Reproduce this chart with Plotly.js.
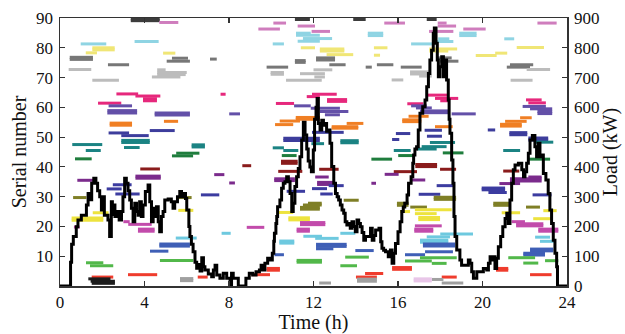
<!DOCTYPE html>
<html>
<head>
<meta charset="utf-8">
<script src="https://cdn.plot.ly/plotly-3.0.1.min.js"></script>
<style>
html,body{margin:0;padding:0;background:#fff;}
#chart{width:625px;height:334px;}
</style>
</head>
<body>
<div id="chart"></div>
<script>
// Each bar: [serial number, start time (h), end time (h)]
const topDarkBars = [[89.7,3.35,4.72],[89.1,3.35,4.72],[89.5,11.12,11.83],[89.5,13.88,14.47],[89.5,17.36,17.83]];
const orchidBars = [[88.5,4.7,5.6],[86.3,9.39,10.41],[88.3,10.1,10.7],[87.3,11.25,12.07],[85.5,11.91,12.78],[88.3,15.35,16.33],[88.3,17.88,18.3],[87.3,17.88,18.75],[85.5,17.47,18.62],[86.3,19.09,20.15],[88.3,22.6,23.51]];
const lightBlueBars = [[81.3,0.98,2.19],[82.1,3.53,4.67],[81.3,10.07,10.6],[84.9,11.17,11.87],[84.2,11.17,12.3],[83.1,11.5,12.88],[82.2,11.25,12.3],[84.9,14.57,15.3],[84.1,14.57,15.3],[84.9,18.9,19.72],[84.1,18.9,19.72],[83.0,21.03,21.5],[81.3,16.62,17.64],[83.0,17.9,18.43],[82.1,17.64,18.62]];
const paleYellowBars = [[80.0,1.53,2.59],[79.3,1.53,2.59],[78.3,1.22,1.75],[78.2,4.88,5.46],[80.0,11.4,12.07],[79.6,12.3,13.46],[78.9,12.3,13.46],[77.7,12.62,13.88],[80.0,14.86,15.5],[77.5,14.86,15.15],[79.6,17.48,18.8],[78.9,17.48,18.38],[77.4,19.68,20.67],[78.2,20.6,21.17],[80.1,21.62,22.91]];
const grayBars = [[76.8,0.46,1.56],[76.1,0.46,1.56],[74.3,2.27,3.27],[76.5,5.3,6.06],[75.5,5.05,6.15],[76.2,7.1,7.42],[73.5,9.78,10.8],[75.7,11.12,11.63],[75.1,11.12,11.63],[76.6,12.12,13.02],[75.9,12.12,13.02],[74.3,12.75,13.52],[73.5,14.47,14.76],[74.3,15.0,15.78],[73.5,16.13,17.12],[76.6,17.83,18.54],[75.5,17.99,18.86],[74.3,21.3,22.4],[73.5,21.15,22.25]];
const lightGrayBars = [[72.7,0.41,1.48],[69.1,1.53,2.79],[72.6,4.6,5.0],[71.7,4.6,6.0],[71.0,4.6,5.95],[70.2,4.35,5.7],[71.7,9.97,10.6],[71.1,9.97,10.6],[69.1,10.7,12.39],[72.6,12.0,12.89],[71.3,11.36,12.54],[70.2,12.04,12.54],[69.2,15.7,16.25],[71.9,16.57,17.5],[71.2,16.57,17.5],[70.5,17.0,17.6],[72.7,22.09,23.2],[69.1,21.33,22.37]];
const crimsonBars = [[64.5,2.67,3.7],[63.8,3.57,4.75],[62.9,3.93,4.59],[62.2,3.93,4.59],[61.4,1.8,2.9],[64.4,7.6,7.84],[61.3,10.22,11.08],[63.6,11.68,12.3],[64.4,11.93,13.1],[62.6,12.64,13.59],[62.0,12.64,13.59],[61.2,16.44,17.2],[64.1,17.36,18.38],[63.0,17.75,18.85],[62.2,18.0,18.4],[62.5,22.06,22.8],[61.5,22.17,23.0]];
const slatePurpleBars = [[60.5,2.3,3.41],[58.9,2.24,3.65],[58.1,2.24,3.65],[58.1,4.48,6.15],[57.4,4.48,6.15],[57.8,8.01,8.52],[60.5,11.08,11.87],[59.7,11.87,13.25],[58.6,12.3,13.65],[57.5,12.54,13.25],[60.5,16.62,17.36],[59.8,16.85,17.6],[58.8,17.04,18.43],[58.2,17.04,18.43],[57.8,18.54,19.68],[60.3,21.9,23.0],[59.5,22.25,23.3],[58.6,22.6,23.3],[57.9,22.6,23.3]];
const orangeBars = [[54.7,2.35,3.41],[54.0,2.35,3.41],[55.3,4.92,5.59],[56.6,11.16,12.3],[56.0,11.16,12.3],[55.4,10.4,11.36],[54.2,10.18,11.04],[54.6,13.57,14.36],[53.5,12.86,14.12],[53.0,12.86,14.12],[57.0,16.5,17.45],[55.8,16.2,17.1],[55.2,16.2,17.1],[53.5,17.75,18.59],[56.5,21.78,22.33],[55.3,21.07,22.09],[54.3,20.83,21.86],[53.7,20.83,21.86]];
const indigoBars = [[51.4,2.3,3.27],[50.5,2.9,4.2],[52.2,4.25,5.43],[49.6,10.57,12.3],[48.9,10.57,12.3],[51.6,11.93,13.43],[51.2,15.9,16.58],[49.2,15.72,16.06],[52.3,17.26,18.08],[50.3,17.37,18.08],[52.4,20.25,20.6],[51.5,21.27,22.12],[50.8,21.27,22.12],[49.7,22.17,23.11],[49.0,22.17,23.11]];
const tealBars = [[47.5,0.58,2.0],[45.5,1.22,1.93],[48.9,2.9,4.25],[48.2,2.9,4.25],[46.5,3.03,3.77],[47.4,6.23,6.86],[46.7,6.23,6.86],[46.4,10.07,10.6],[45.5,10.57,11.28],[47.8,11.9,12.5],[48.8,13.27,14.14],[48.1,13.27,14.14],[45.5,15.8,16.6],[48.2,17.51,18.7],[46.8,17.12,18.3],[46.0,16.88,17.83],[45.5,20.98,21.78],[48.3,22.49,23.35]];
const darkGreenBars = [[42.7,0.71,1.5],[44.6,5.5,6.6],[43.7,5.3,6.3],[43.8,10.5,11.2],[42.6,14.74,15.72],[43.8,16.01,16.8],[44.7,18.12,19.1],[42.6,22.17,23.2]];
const darkRedBars = [[39.3,3.8,4.73],[40.4,8.63,9.05],[41.9,10.46,11.25],[41.2,10.46,11.25],[38.5,10.33,11.47],[39.2,12.27,13.19],[38.4,15.8,16.9],[40.8,16.82,17.85],[40.1,16.82,17.85],[39.2,17.99,18.75],[38.6,20.98,21.74]];
const purpleBars = [[36.9,3.57,4.77],[36.2,3.57,4.77],[35.5,0.82,1.56],[37.4,7.3,7.78],[34.6,8.01,8.28],[36.0,10.14,11.12],[35.4,10.14,11.12],[36.6,12.08,12.72],[34.8,12.17,12.96],[34.1,12.17,12.96],[37.5,15.37,16.03],[34.5,14.74,14.96],[35.6,16.66,17.29],[34.4,20.8,21.78],[36.0,21.3,22.8],[35.3,21.3,22.8],[36.6,22.17,22.8]];
const navyBars = [[34.0,2.5,3.39],[32.6,2.21,2.92],[30.9,2.62,3.77],[30.6,6.67,7.54],[31.8,10.73,11.6],[32.7,11.93,12.64],[33.7,12.72,13.43],[30.9,12.32,12.91],[30.8,16.98,18.0],[33.7,17.83,18.7],[32.9,19.96,21.07],[32.3,19.96,21.07],[31.4,20.28,21.15],[30.6,22.37,23.27]];
const oliveBars = [[29.7,0.62,1.25],[29.7,5.52,6.23],[27.8,11.74,12.39],[27.2,11.5,12.39],[26.4,11.36,12.3],[25.8,11.36,12.3],[28.8,13.43,14.14],[27.8,15.95,16.5],[27.1,15.95,16.5],[26.5,16.58,17.37],[29.8,17.69,18.75],[29.1,17.69,18.75],[27.8,20.51,21.3],[27.1,20.51,21.3],[26.5,22.06,22.72]];
const yellowBars = [[22.8,0.55,2.05],[22.1,0.55,2.05],[24.6,1.55,2.3],[25.4,5.6,6.31],[22.9,10.81,11.83],[22.2,10.81,11.83],[24.7,10.33,11.04],[25.6,16.8,18.54],[24.3,16.8,17.83],[23.0,16.96,17.99],[22.3,16.96,17.99],[25.0,16.1,16.57],[24.6,20.91,21.78],[25.3,22.88,23.51],[22.6,22.4,23.27]];
const magentaBars = [[21.6,3.0,3.3],[20.7,3.23,4.34],[19.1,3.69,4.48],[18.4,3.69,4.48],[19.8,0.66,0.93],[19.7,8.84,9.67],[19.1,11.2,11.83],[18.4,11.2,11.83],[21.3,11.36,12.56],[20.6,11.36,12.56],[20.2,16.8,18.07],[19.1,16.77,17.67],[18.4,16.77,17.67],[21.6,21.38,22.01],[20.9,21.59,22.88],[20.2,21.59,22.88],[19.1,22.64,23.59],[18.4,22.64,23.59]];
const cyanBars = [[16.1,5.48,6.47],[17.7,7.65,8.08],[15.1,10.38,11.09],[14.4,10.38,11.09],[16.7,11.52,12.4],[16.0,12.08,13.19],[17.7,13.27,13.98],[16.5,17.36,18.46],[15.4,17.04,18.38],[14.7,17.04,18.38],[17.5,18.0,19.55],[16.4,22.49,23.2],[15.0,22.72,23.43]];
const blueBars = [[14.1,4.7,6.15],[13.4,4.7,6.15],[11.7,4.26,5.13],[10.5,10.15,10.6],[14.0,12.12,13.57],[13.3,12.12,13.57],[12.5,12.12,12.94],[11.9,13.98,14.85],[11.5,17.28,18.6],[10.5,16.33,17.28],[14.1,17.18,18.7],[13.4,17.18,18.7],[12.4,22.25,23.35],[11.8,22.25,23.35],[11.0,21.93,22.96],[10.4,21.93,22.96]];
const limeBars = [[8.6,4.73,6.31],[7.8,1.23,2.05],[6.8,1.42,2.52],[8.6,11.2,12.4],[8.0,11.2,12.4],[9.7,13.5,14.62],[6.8,13.27,14.06],[9.5,17.04,18.78],[8.4,16.33,17.6],[7.6,17.6,18.3],[9.5,21.22,22.49],[7.7,21.93,22.64],[8.5,22.96,23.59]];
const redBars = [[3.8,3.22,4.6],[3.0,1.5,2.52],[3.0,6.52,6.99],[3.8,9.07,9.94],[5.9,9.78,10.41],[5.3,9.78,10.41],[4.2,14.44,15.3],[3.0,14.01,15.0],[6.2,15.72,16.66],[5.6,15.72,16.66],[3.0,18.07,18.78],[5.9,20.64,21.22],[5.3,20.64,21.22],[3.8,22.25,23.27]];
const blackBars = [[2.4,1.34,2.39],[1.6,1.45,2.6],[0.9,1.5,2.6]];
const midGrayBars = [[2.5,5.68,6.31],[1.8,5.68,6.31],[2.3,14.06,15.0],[1.6,14.06,15.0],[1.0,12.27,12.83],[2.2,17.6,18.15],[1.0,18.07,19.09]];
const lightPinkBars = [[2.4,16.74,17.6],[1.7,16.74,17.6]];

// Load profile (kW)
const loadTime = [0,0.4,0.5,0.55,0.63,0.77,0.85,1.01,1.13,1.25,1.33,1.4,1.5,1.6,1.7,1.78,1.88,1.96,2.04,2.1,2.27,2.35,2.43,2.48,2.53,2.6,2.7,2.8,2.91,2.98,3.06,3.14,3.22,3.3,3.38,3.46,3.54,3.62,3.7,3.77,3.85,3.93,4.04,4.17,4.25,4.33,4.41,4.49,4.57,4.65,4.72,4.8,4.88,4.96,5.12,5.27,5.35,5.43,5.56,5.67,5.75,5.83,5.94,6.0,6.1,6.15,6.22,6.3,6.39,6.47,6.55,6.63,6.71,6.79,6.86,7.02,7.18,7.26,7.34,7.42,7.57,7.73,7.89,8.05,8.12,8.2,8.36,8.44,8.73,8.8,8.96,9.12,9.28,9.44,9.52,9.6,9.7,9.83,9.94,10.05,10.12,10.15,10.22,10.26,10.3,10.41,10.49,10.57,10.65,10.73,10.81,10.89,10.97,11.04,11.12,11.2,11.28,11.36,11.44,11.52,11.6,11.68,11.75,11.83,11.9,11.99,12.05,12.12,12.17,12.23,12.31,12.39,12.47,12.55,12.62,12.7,12.78,12.86,12.96,13.04,13.12,13.19,13.27,13.35,13.43,13.5,13.58,13.66,13.74,13.82,13.9,13.98,14.06,14.14,14.22,14.3,14.38,14.46,14.62,14.7,14.78,14.86,14.94,15.1,15.18,15.24,15.32,15.41,15.54,15.64,15.72,15.8,15.88,16.0,16.1,16.18,16.25,16.32,16.43,16.5,16.62,16.7,16.74,16.8,16.88,16.96,17.04,17.17,17.28,17.36,17.44,17.51,17.59,17.67,17.72,17.8,17.86,17.91,17.99,18.07,18.15,18.23,18.3,18.38,18.42,18.46,18.54,18.6,18.65,18.7,18.78,18.93,19.01,19.25,19.33,19.41,19.49,19.57,19.73,19.96,20.04,20.2,20.28,20.36,20.44,20.51,20.59,20.67,20.75,20.86,20.96,21.07,21.15,21.22,21.3,21.38,21.46,21.54,21.7,21.78,21.86,21.94,22.01,22.09,22.17,22.25,22.36,22.48,22.56,22.64,22.72,22.8,22.88,23.0,23.11,23.19,23.27,23.35,23.43,23.51,23.55,24];
const loadKW = [0,0,80,140,166,199,222,238,238,272,311,290,345,362,345,320,300,255,300,238,222,166,283,240,272,233,250,222,250,300,362,345,320,289,261,216,278,250,238,283,233,272,317,339,283,216,261,233,266,216,182,233,250,289,292,283,261,283,300,317,300,311,294,255,200,166,140,115,80,60,72,50,95,65,54,40,31,54,70,37,26,43,26,0,43,26,26,0,0,26,43,37,48,54,70,54,76,93,87,110,150,177,210,233,266,289,328,345,350,367,350,311,250,278,334,367,395,434,490,550,507,460,420,400,384,457,560,600,630,546,524,557,540,546,520,524,479,401,345,311,300,289,272,255,244,216,205,210,194,216,200,182,222,210,199,180,154,166,166,194,154,170,188,194,149,127,120,115,98,121,76,110,143,182,216,250,265,278,306,345,367,412,440,460,468,524,580,602,625,669,714,759,792,849,866,815,759,703,736,770,703,759,692,625,560,513,423,345,233,166,121,87,70,70,87,76,48,26,48,48,59,54,76,98,87,98,59,93,132,166,199,227,244,210,289,345,390,406,412,412,390,367,384,412,446,490,505,468,434,479,434,440,378,356,311,255,210,154,110,65,0,0];

const xTicks = [0,4,8,12,16,20,24];
const yTicks = [10,20,30,40,50,60,70,80,90];
const y2Ticks = [0,100,200,300,400,500,600,700,800,900];

function barTrace(bars, color, width) {
  const x = [], y = [];
  bars.forEach(function (b) { x.push(b[1], b[2], null); y.push(b[0], b[0], null); });
  return {type: 'scatter', mode: 'lines', x: x, y: y, xaxis: 'x', yaxis: 'y',
    line: {color: color, width: width || 3}, hoverinfo: 'skip', showlegend: false};
}

const traces = [
  barTrace(topDarkBars, '#3c3c3c'),
  barTrace(orchidBars, '#cf7dbd'),
  barTrace(lightBlueBars, '#8fd4e3'),
  barTrace(paleYellowBars, '#f0e676'),
  barTrace(grayBars, '#777777'),
  barTrace(lightGrayBars, '#bcbcbc'),
  barTrace(crimsonBars, '#e6287c'),
  barTrace(slatePurpleBars, '#6350a8'),
  barTrace(orangeBars, '#f07f24'),
  barTrace(indigoBars, '#3d3d9c'),
  barTrace(tealBars, '#1b8383'),
  barTrace(darkGreenBars, '#1f7d3d'),
  barTrace(darkRedBars, '#8a1c1c'),
  barTrace(purpleBars, '#7b2b8c'),
  barTrace(navyBars, '#3c3ca0'),
  barTrace(oliveBars, '#7f7f26'),
  barTrace(yellowBars, '#ede33e'),
  barTrace(magentaBars, '#c24bab'),
  barTrace(cyanBars, '#6ec9df'),
  barTrace(blueBars, '#3f5fb6'),
  barTrace(limeBars, '#52b84a'),
  barTrace(redBars, '#ef3c2d'),
  barTrace(blackBars, '#1c1c1c'),
  barTrace(midGrayBars, '#a0a0a0'),
  barTrace(lightPinkBars, '#e8c6e8'),
  {type: 'scatter', mode: 'lines', x: loadTime, y: loadKW, xaxis: 'x', yaxis: 'y2',
   line: {color: '#000000', width: 3, shape: 'hv'}, hoverinfo: 'skip', showlegend: false}
];

const tickFont = {family: 'Liberation Serif', size: 17, color: '#111'};
const titleFont = {family: 'Liberation Serif', size: 20, color: '#111'};

const layout = {
  width: 625, height: 334,
  margin: {l: 60, r: 58, t: 18, b: 48, pad: 0},
  paper_bgcolor: '#ffffff', plot_bgcolor: '#ffffff',
  showlegend: false,
  xaxis: {range: [0, 24], tickmode: 'array', tickvals: xTicks, ticktext: xTicks.map(String),
    ticks: 'inside', ticklen: 5, tickwidth: 1.2, tickcolor: '#333',
    showline: true, linecolor: '#333', linewidth: 1.5, mirror: 'ticks',
    showgrid: false, zeroline: false, tickfont: tickFont,
    title: {text: 'Time (h)', font: titleFont, standoff: 2}},
  yaxis: {range: [0, 90], tickmode: 'array', tickvals: yTicks, ticktext: yTicks.map(String),
    ticks: 'inside', ticklen: 5, tickwidth: 1.2, tickcolor: '#333',
    showline: true, linecolor: '#333', linewidth: 1.5,
    showgrid: false, zeroline: false, tickfont: tickFont, ticklabelstandoff: 2,
    title: {text: 'Serial number', font: titleFont, standoff: 4}},
  yaxis2: {range: [0, 900], overlaying: 'y', side: 'right', tickmode: 'array', tickvals: y2Ticks, ticktext: y2Ticks.map(String),
    ticks: 'inside', ticklen: 5, tickwidth: 1.2, tickcolor: '#333',
    showline: true, linecolor: '#333', linewidth: 1.5,
    showgrid: false, zeroline: false, tickfont: tickFont, ticklabelstandoff: 2,
    title: {text: 'Load (kW)', font: titleFont, standoff: 4}}
};

Plotly.newPlot('chart', traces, layout, {staticPlot: true, displayModeBar: false});
</script>
</body>
</html>
